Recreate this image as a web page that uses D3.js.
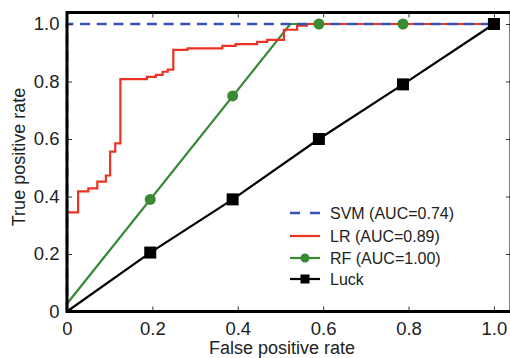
<!DOCTYPE html>
<html>
<head>
<meta charset="utf-8">
<script src="https://cdn.jsdelivr.net/npm/d3@7"></script>
<style>
  body { margin: 0; background: #fff; }
  text { font-family: "Liberation Sans", Arial, sans-serif; fill: #222; }
</style>
</head>
<body>
<div id="chart"></div>
<script>
// data
const tickValues = [0, 0.2, 0.4, 0.6, 0.8, 1.0];

const svmFpr = [0, 0, 1];
const svmTpr = [0, 1, 1];

const lrFpr = [0, 0, 0.026, 0.050, 0.071, 0.091, 0.101, 0.113, 0.125, 0.187, 0.208, 0.224, 0.236, 0.249,
               0.282, 0.364, 0.395, 0.445, 0.469, 0.508, 0.539, 0.562, 1.0];
const lrTpr = [0, 0.345, 0.418, 0.428, 0.452, 0.473, 0.556, 0.585, 0.808, 0.816, 0.823, 0.834, 0.841, 0.910,
               0.915, 0.924, 0.930, 0.938, 0.945, 0.980, 0.994, 1.0, 1.0];

const rfFpr = [0, 0.523, 1.0];
const rfTpr = [0.027, 1.0, 1.0];
const rfMarkFpr = [0.195, 0.388, 0.59, 0.787, 1.0];
const rfMarkTpr = [0.39, 0.75, 1.0, 1.0, 1.0];

const luckFpr = [0, 0.195, 0.388, 0.59, 0.787, 1.0];
const luckTpr = [0, 0.205, 0.39, 0.60, 0.79, 1.0];

const legendLabels = ['SVM (AUC=0.74)', 'LR (AUC=0.89)', 'RF (AUC=1.00)', 'Luck'];

const colors = { svm: '#3554b8', lr: '#ec3323', rf: '#3a8a34', luck: '#000' };

const width = 510, height = 358;
const margin = { left: 67, top: 12.5, right: -1, bottom: 46.5 };
const innerW = width - margin.left - margin.right;
const innerH = height - margin.top - margin.bottom;

const svg = d3.select('#chart').append('svg')
    .attr('width', width)
    .attr('height', height);

const g = svg.append('g').attr('transform', `translate(${margin.left},${margin.top})`);

const x = d3.scaleLinear().domain([0, 1.04]).range([0, innerW]);
const y = d3.scaleLinear().domain([0, 1.04]).range([innerH, 0]);

const fmt = d => d === 0 ? '0' : d3.format('.1f')(d);

const line = d3.line().x(d => x(d[0])).y(d => y(d[1]));
const stepLine = d3.line().x(d => x(d[0])).y(d => y(d[1])).curve(d3.curveStepAfter);

const zip = (a, b) => a.map((v, i) => [v, b[i]]);

// curves
g.append('path').datum(zip(luckFpr, luckTpr))
    .attr('d', line).attr('fill', 'none')
    .attr('stroke', colors.luck).attr('stroke-width', 2.2);

g.append('path').datum(zip(rfFpr, rfTpr))
    .attr('d', line).attr('fill', 'none')
    .attr('stroke', colors.rf).attr('stroke-width', 2.2);

g.append('path').datum(zip(lrFpr, lrTpr))
    .attr('d', stepLine).attr('fill', 'none')
    .attr('stroke', colors.lr).attr('stroke-width', 2.2);

g.append('path').datum(zip(svmFpr, svmTpr))
    .attr('d', line).attr('fill', 'none')
    .attr('stroke', colors.svm).attr('stroke-width', 2.6)
    .attr('stroke-dasharray', '10,6.7');

// markers
g.selectAll('.rfmark').data(zip(rfMarkFpr, rfMarkTpr)).enter()
    .append('circle').attr('class', 'rfmark')
    .attr('cx', d => x(d[0])).attr('cy', d => y(d[1]))
    .attr('r', 5.5).attr('fill', colors.rf);

const sq = 12;
g.selectAll('.luckmark').data(zip(luckFpr, luckTpr).slice(1)).enter()
    .append('rect').attr('class', 'luckmark')
    .attr('x', d => x(d[0]) - sq / 2).attr('y', d => y(d[1]) - sq / 2)
    .attr('width', sq).attr('height', sq).attr('fill', colors.luck);

// axes (ticks pointing inward)
const xAxis = d3.axisBottom(x).tickValues(tickValues).tickFormat(fmt).tickSize(-5).tickPadding(10);
const yAxis = d3.axisLeft(y).tickValues(tickValues).tickFormat(fmt).tickSize(-5).tickPadding(7.5);

const gx = g.append('g').attr('transform', `translate(0,${innerH})`).call(xAxis);
const gy = g.append('g').call(yAxis);
g.append('g').call(d3.axisTop(x).tickValues(tickValues).tickFormat('').tickSize(-5));
g.append('g').attr('transform', `translate(${innerW},0)`)
    .call(d3.axisRight(y).tickValues(tickValues).tickFormat('').tickSize(-5));

g.selectAll('.domain').remove();
g.selectAll('.tick line').attr('stroke', '#333');
[gx, gy].forEach(a => a.selectAll('text')
    .style('font-size', '18.5px')
    .style('font-family', '"Liberation Sans", Arial, sans-serif')
    .attr('fill', '#222'));

// frame
g.append('rect')
    .attr('width', innerW).attr('height', innerH)
    .attr('fill', 'none').attr('stroke', '#000').attr('stroke-width', 3);

// axis titles
svg.append('text')
    .attr('x', 282).attr('y', 354)
    .attr('text-anchor', 'middle')
    .style('font-size', '18px')
    .text('False positive rate');

svg.append('text')
    .attr('transform', 'translate(25,157) rotate(-90)')
    .attr('text-anchor', 'middle')
    .style('font-size', '18px')
    .text('True positive rate');

// legend
const legendY = [213, 236, 258, 279];
const leg = svg.append('g');
legendLabels.forEach((label, i) => {
    const row = leg.append('g').attr('transform', `translate(290,${legendY[i]})`);
    const ln = row.append('line').attr('x1', 0).attr('x2', 30).attr('y1', 0).attr('y2', 0)
        .attr('stroke-width', i === 0 ? 2.6 : 2.2);
    if (i === 0) ln.attr('stroke', colors.svm).attr('stroke-dasharray', '10,10');
    if (i === 1) ln.attr('stroke', colors.lr);
    if (i === 2) {
        ln.attr('stroke', colors.rf);
        row.append('circle').attr('cx', 15).attr('cy', 0).attr('r', 4.5).attr('fill', colors.rf);
    }
    if (i === 3) {
        ln.attr('stroke', colors.luck);
        row.append('rect').attr('x', 10.5).attr('y', -4.5).attr('width', 9).attr('height', 9).attr('fill', colors.luck);
    }
    row.append('text').attr('x', 40).attr('y', 6)
        .style('font-size', '16px')
        .text(label);
});
</script>
</body>
</html>
